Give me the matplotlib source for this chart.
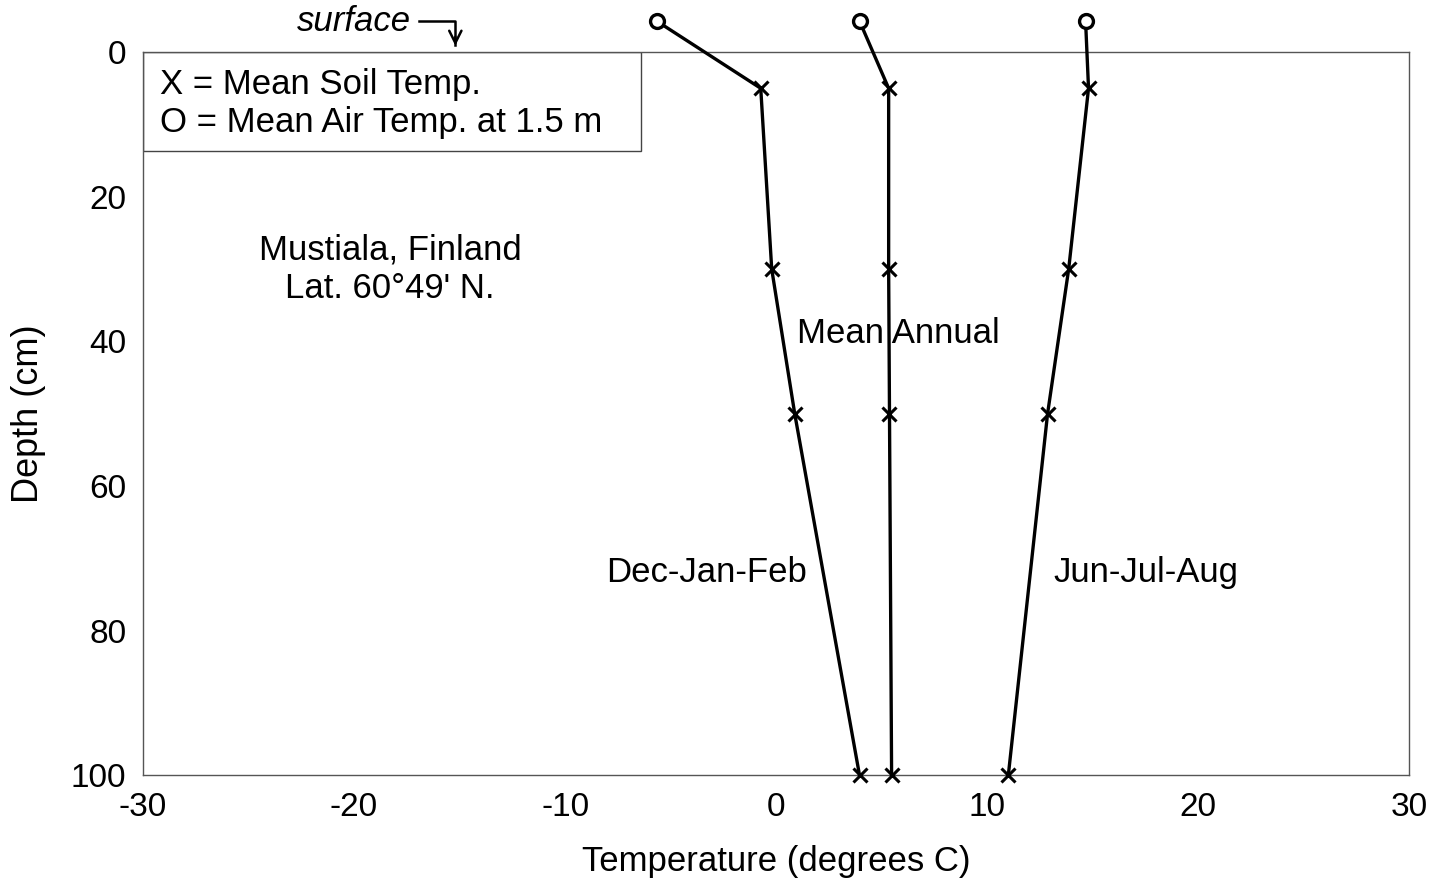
import matplotlib
matplotlib.use('Agg')
import matplotlib.pyplot as plt
from matplotlib.patches import Rectangle

# Depths (cm); air temperature plotted just above the surface
air_depth = -4.3
soil_depths = [5, 30, 50, 100]

# Temperatures (degrees C)
djf_air = -5.66
djf_soil = [-0.73, -0.21, 0.88, 3.95]
annual_air = 3.95
annual_soil = [5.33, 5.33, 5.37, 5.47]
jja_air = 14.66
jja_soil = [14.8, 13.86, 12.86, 11.0]

series_labels = ['Dec-Jan-Feb', 'Mean Annual', 'Jun-Jul-Aug']
label_pos = [(-3.3, 72), (5.8, 38.9), (17.5, 72)]

plt.rcParams['font.family'] = ['Liberation Sans', 'DejaVu Sans']
plt.rcParams['axes.unicode_minus'] = False

fig = plt.figure(figsize=(14.44, 8.84), dpi=100)
ax = fig.add_axes([0.099, 0.123, 0.877, 0.818])

for air, soil in [(djf_air, djf_soil), (annual_air, annual_soil), (jja_air, jja_soil)]:
    xs = [air] + soil
    ys = [air_depth] + soil_depths
    ax.plot(xs, ys, color='black', linewidth=2.4, clip_on=False, zorder=3)
    ax.plot(soil, soil_depths, linestyle='none', marker='x', markersize=10,
            markeredgewidth=2.2, color='black', clip_on=False, zorder=4)
    ax.plot([air], [air_depth], linestyle='none', marker='o', markersize=10,
            markerfacecolor='white', markeredgewidth=2.4, markeredgecolor='black',
            clip_on=False, zorder=4)

for lab, (x, y) in zip(series_labels, label_pos):
    ax.text(x, y, lab, fontsize=25, ha='center', va='center')

ax.text(-18.3, 27.4, 'Mustiala, Finland', fontsize=25, ha='center', va='center')
ax.text(-18.3, 32.7, "Lat. 60\u00b049' N.", fontsize=25, ha='center', va='center')

# key box in upper left
ax.add_patch(Rectangle((0, 1 - 0.137), 0.393, 0.137, transform=ax.transAxes,
                       facecolor='white', edgecolor='#444444', linewidth=1, zorder=2))
ax.text(0.0134, 1 - (84 - 52) / 723, 'X = Mean Soil Temp.', transform=ax.transAxes,
        fontsize=25, ha='left', va='center', zorder=3)
ax.text(0.0134, 1 - (122 - 52) / 723, 'O = Mean Air Temp. at 1.5 m', transform=ax.transAxes,
        fontsize=25, ha='left', va='center', zorder=3)

# surface marker
ax.text(-17.3, air_depth, 'surface', fontsize=25, style='italic', ha='right', va='center')
ax.plot([-16.9, -15.2, -15.2], [air_depth, air_depth, -1.0], color='black',
        linewidth=1.8, clip_on=False)
ax.annotate('', xy=(-15.2, -0.5), xytext=(-15.2, -2.5),
            arrowprops=dict(arrowstyle='->', color='black', lw=1.8, mutation_scale=22),
            annotation_clip=False)

ax.set_xlim(-30, 30)
ax.set_ylim(100, 0)
ax.set_xticks([-30, -20, -10, 0, 10, 20, 30])
ax.set_yticks([0, 20, 40, 60, 80, 100])
ax.tick_params(length=0, labelsize=24, pad=12)
ax.set_xlabel('Temperature (degrees C)', fontsize=25, labelpad=16)
ax.set_ylabel('Depth (cm)', fontsize=26, labelpad=18)
for s in ax.spines.values():
    s.set_color('#555555')
    s.set_linewidth(1)

fig.savefig('out.png', dpi=100)
